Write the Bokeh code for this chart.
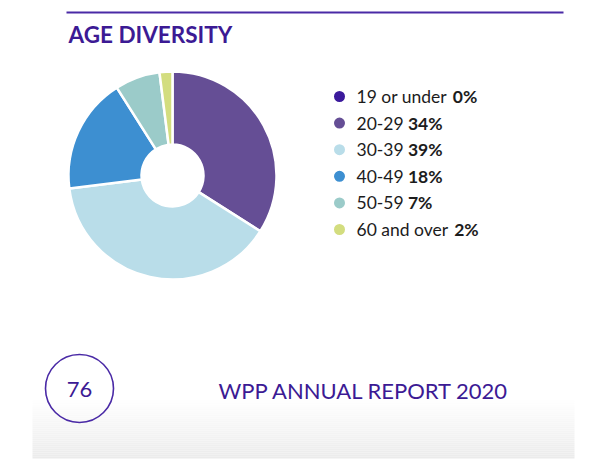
from bokeh.plotting import figure
from bokeh.models import Range1d, ColumnDataSource
from bokeh.core.properties import value
from bokeh.embed import file_html
from bokeh.resources import INLINE
import math

# ---------------- data ----------------
title_text = "AGE DIVERSITY"
categories = ["19 or under", "20-29", "30-39", "40-49", "50-59", "60 and over"]
shares = [0, 34, 39, 18, 7, 2]
colors = ["#3b1a9c", "#654e95", "#b9dde9", "#3d8fd1", "#9bcbc9", "#d3dd7f"]
page_number = "76"
footer_text = "WPP ANNUAL REPORT 2020"

# ---------------- layout ----------------
H = 476
PURPLE = "#3c1a94"
FONT = "Lato"


def Y(py):
    return H - py


p = figure(width=598, height=460, x_range=Range1d(0, 598), y_range=Range1d(16, 476),
           output_backend="svg", toolbar_location=None, min_border=0)
p.axis.visible = False
p.grid.visible = False
p.outline_line_color = None
p.background_fill_color = "white"
p.border_fill_color = "white"

# bottom grey gradient band (decoration)
n = 30
g_top, g_bot = 398, 458
left, right, bot, top, cols = [], [], [], [], []
for i in range(n):
    t0 = g_top + (g_bot - g_top) * i / n
    t1 = g_top + (g_bot - g_top) * (i + 1) / n
    f = (i + 0.5) / n
    c = int(round(255 - (255 - 235) * f))
    left.append(32); right.append(574); top.append(Y(t0)); bot.append(Y(t1))
    cols.append("#%02x%02x%02x" % (c, c, c))
p.quad(left=left, right=right, top=top, bottom=bot, fill_color=cols, line_color=None)

# top rule
p.segment(x0=[66], y0=[Y(12)], x1=[563], y1=[Y(12)], line_color="#4a2aa6", line_width=2)

# title
p.text(x=[68], y=[Y(34)], text=[title_text], text_font=value(FONT), text_font_style="bold",
       text_font_size=value("22.5px"), text_color=PURPLE, text_baseline="middle")

# donut
total = sum(shares)
cx, cy = 172, Y(175)
starts, ends, wcols = [], [], []
cum = 0.0
for s, c in zip(shares, colors):
    if s > 0:
        a0 = math.pi / 2 - 2 * math.pi * cum / total
        a1 = math.pi / 2 - 2 * math.pi * (cum + s) / total
        starts.append(a0); ends.append(a1); wcols.append(c)
    cum += s
src = ColumnDataSource(dict(start=starts, end=ends, color=wcols))
p.annular_wedge(x=cx, y=cy, inner_radius=31, outer_radius=104, start_angle="start", end_angle="end",
                direction="clock", fill_color="color", line_color="white", line_width=2.5, source=src)

# legend
char_w = {" ": 0.26, "-": 0.36, "%": 0.8, "o": 0.57, "r": 0.38, "u": 0.56, "n": 0.56,
          "d": 0.58, "e": 0.53, "a": 0.51, "v": 0.51, "1": 0.58}


def text_w(s, size):
    return sum(char_w.get(ch, 0.58) for ch in s) * size


LSIZE = 17.5
row0, rstep = 96, 26.6
ly = [Y(row0 + i * rstep) for i in range(len(categories))]
p.scatter(x=[339] * len(categories), y=ly, size=11, fill_color=colors, line_color=None)
p.text(x=[356] * len(categories), y=ly, text=categories, text_font=value(FONT),
       text_font_size=value("%.1fpx" % LSIZE), text_color="#1c1c1c", text_baseline="middle")
bx = [356 + text_w(c + " ", LSIZE) for c in categories]
p.text(x=bx, y=ly, text=["%d%%" % s for s in shares], text_font=value(FONT), text_font_style="bold",
       text_font_size=value("%.1fpx" % LSIZE), text_color="#1c1c1c", text_baseline="middle")

# footer
p.circle(x=[79], y=[Y(388)], radius=34, fill_color=None, line_color="#4a2aa6", line_width=1.6)
p.text(x=[79], y=[Y(389)], text=[page_number], text_font=value(FONT), text_font_size=value("22px"),
       text_color=PURPLE, text_align="center", text_baseline="middle")
p.text(x=[218], y=[Y(389.5)], text=[footer_text], text_font=value(FONT), text_font_size=value("22px"),
       text_color=PURPLE, text_baseline="middle")

open("out.html", "w").write(file_html(p, INLINE))
